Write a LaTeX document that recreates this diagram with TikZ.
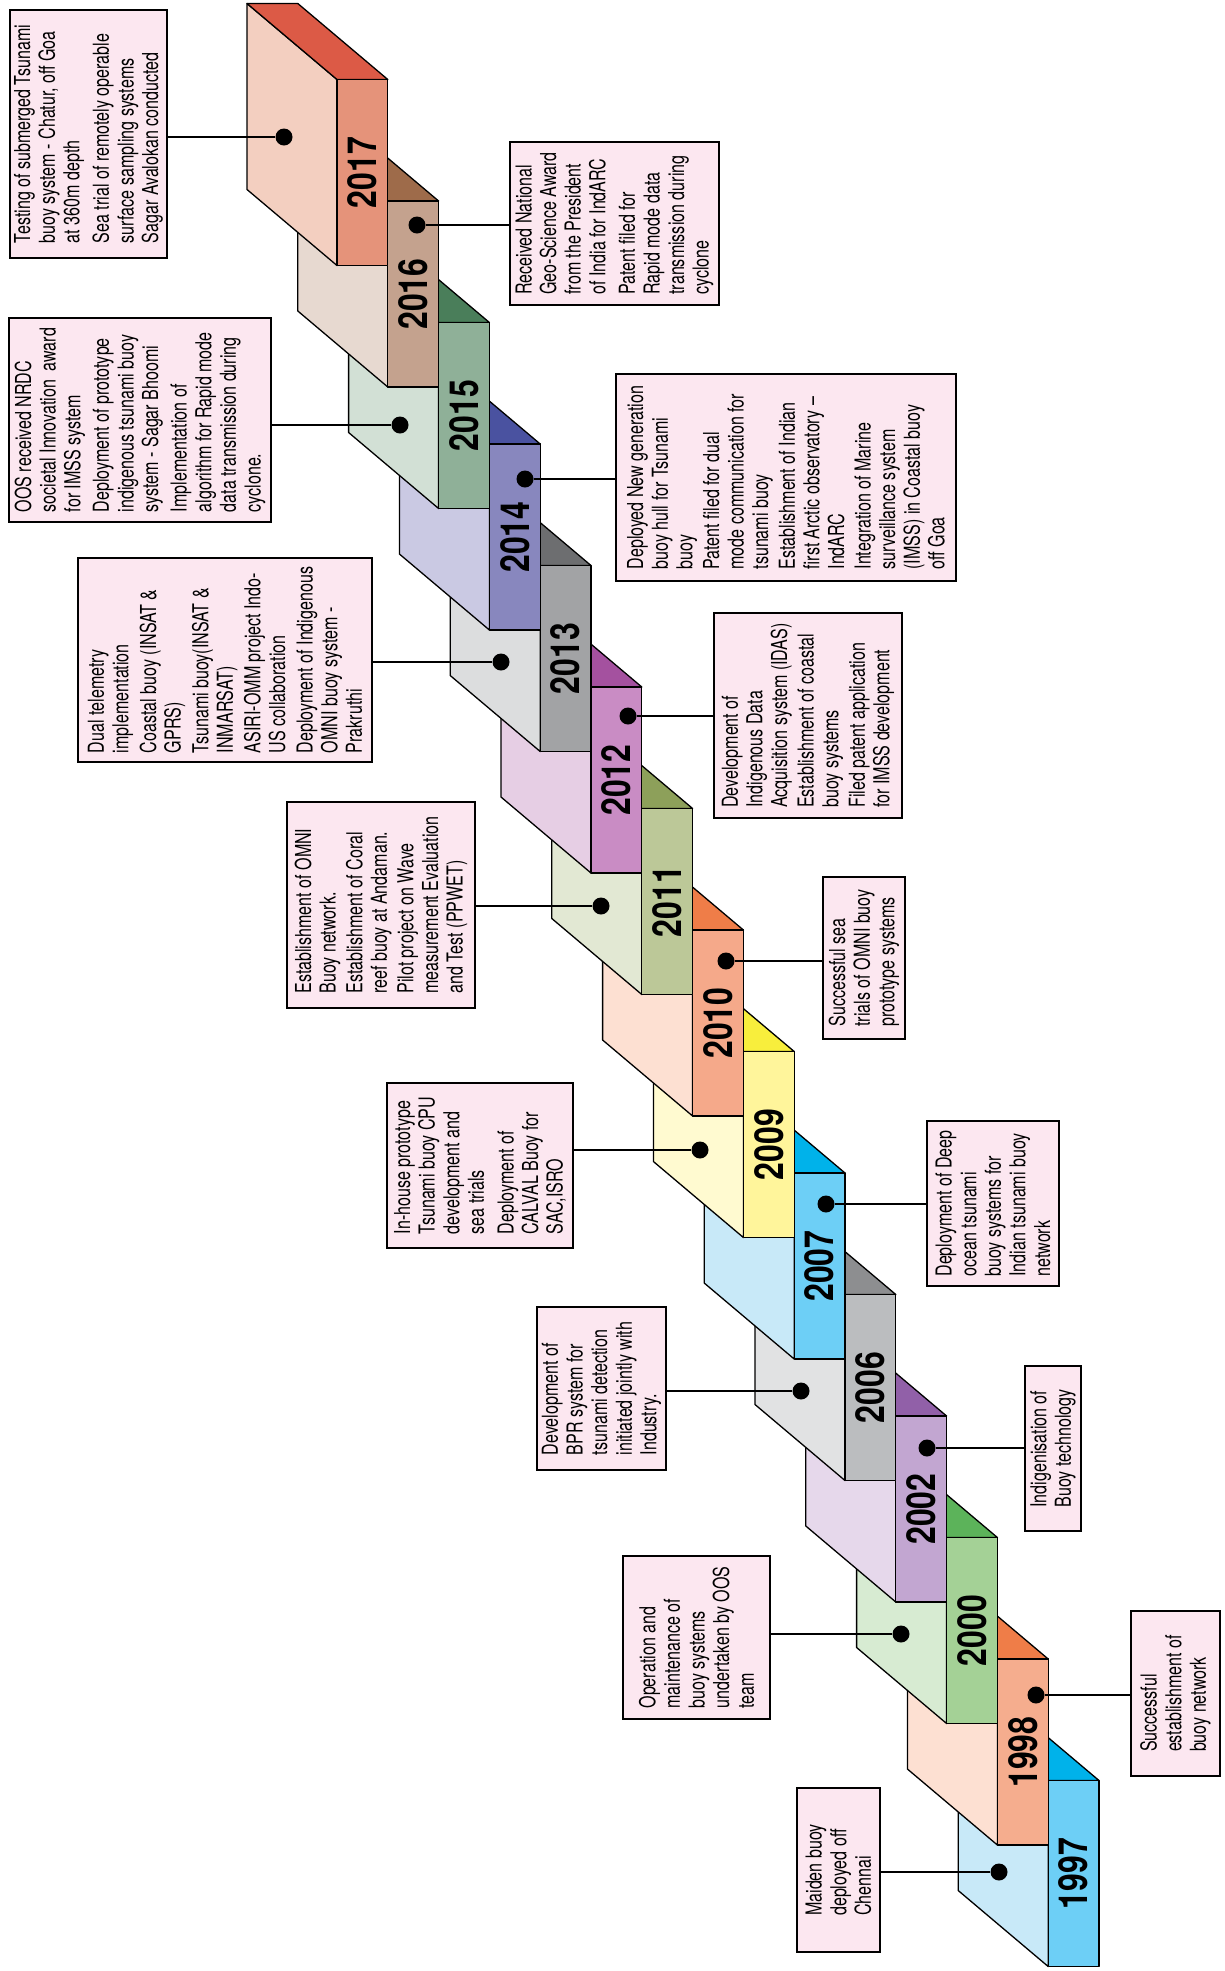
\documentclass[tikz,border=0pt]{standalone}
\usepackage{fontspec}
\newfontfamily\boxfont{TeX Gyre Heros}[FakeStretch=0.73]
\newfontfamily\yearfont{TeX Gyre Heros}[FakeStretch=0.8]
\definecolor{boxpink}{HTML}{FCE7F0}
% block colours: top / side / front
\definecolor{aT}{HTML}{DC5A46}\definecolor{aS}{HTML}{F3CFC0}\definecolor{aF}{HTML}{E5937A}
\definecolor{bT}{HTML}{9E6B4A}\definecolor{bS}{HTML}{E7D9D0}\definecolor{bF}{HTML}{C4A28E}
\definecolor{cT}{HTML}{4A7E5A}\definecolor{cS}{HTML}{D2E0D5}\definecolor{cF}{HTML}{8FB098}
\definecolor{dT}{HTML}{4A52A0}\definecolor{dS}{HTML}{CAC9E3}\definecolor{dF}{HTML}{8887BE}
\definecolor{eT}{HTML}{6D6E70}\definecolor{eS}{HTML}{DCDDDE}\definecolor{eF}{HTML}{A2A3A5}
\definecolor{fT}{HTML}{A4519F}\definecolor{fS}{HTML}{E6CEE4}\definecolor{fF}{HTML}{C98CC4}
\definecolor{gT}{HTML}{8DA05A}\definecolor{gS}{HTML}{E2E8D3}\definecolor{gF}{HTML}{BCC898}
\definecolor{hT}{HTML}{EF7D48}\definecolor{hS}{HTML}{FDE0D2}\definecolor{hF}{HTML}{F5A98A}
\definecolor{iT}{HTML}{F8EE3C}\definecolor{iS}{HTML}{FFFAD0}\definecolor{iF}{HTML}{FFF59B}
\definecolor{jT}{HTML}{00B2EA}\definecolor{jS}{HTML}{C8E9F8}\definecolor{jF}{HTML}{6DCFF6}
\definecolor{kT}{HTML}{8D8E90}\definecolor{kS}{HTML}{E1E2E3}\definecolor{kF}{HTML}{BBBDBF}
\definecolor{lT}{HTML}{9160A8}\definecolor{lS}{HTML}{E6D8EB}\definecolor{lF}{HTML}{C2A6D1}
\definecolor{mT}{HTML}{5CB35A}\definecolor{mS}{HTML}{D7EBD2}\definecolor{mF}{HTML}{A4D196}
\definecolor{nT}{HTML}{EF7D48}\definecolor{nS}{HTML}{FDE0D2}\definecolor{nF}{HTML}{F5AD8E}
\definecolor{oT}{HTML}{00B2EA}\definecolor{oS}{HTML}{C8E9F8}\definecolor{oF}{HTML}{6DCFF6}
\tikzset{
 blk/.style={draw=black, line width=1.3pt, line join=round},
 yr/.style={rotate=90, font=\yearfont\bfseries\fontsize{40}{40}\selectfont, inner sep=0pt},
 infobox/.style={draw=black, line width=1.1pt, fill=boxpink, rotate=90, align=left,
   inner sep=0pt, font=\boxfont\fontsize{22}{24.6}\selectfont},
 dot/.style={circle, fill=black, inner sep=0pt, minimum size=17pt},
 conn/.style={line width=1.1pt}
}
\newcommand\yblock[5]{%
 \pgfmathsetmacro\bx{337+#1*50.8}%
 \pgfmathsetmacro\by{79.5+#1*121.5}%
 \draw[blk, fill=#3] (\bx,\by) -- (\bx-90,\by-76) -- (\bx-90,\by+110) -- (\bx,\by+186) -- cycle;
 \draw[blk, fill=#2] (\bx,\by) -- (\bx+50.8,\by) -- (\bx-39.2,\by-76) -- (\bx-90,\by-76) -- cycle;
 \draw[blk, fill=#4] (\bx,\by) rectangle (\bx+50.8,\by+186);
 \node[yr] (y#5) at (\bx+25.4,\by+93) {#5};
}
\begin{document}
\begin{tikzpicture}[x=1pt,y=-1pt]
\useasboundingbox[fill=white] (0,0) rectangle (1224,1971);
% blocks, bottom first
\yblock{14}{oT}{oS}{oF}{1997}
\yblock{13}{nT}{nS}{nF}{1998}
\yblock{12}{mT}{mS}{mF}{2000}
\yblock{11}{lT}{lS}{lF}{2002}
\yblock{10}{kT}{kS}{kF}{2006}
\yblock{9}{jT}{jS}{jF}{2007}
\yblock{8}{iT}{iS}{iF}{2009}
\yblock{7}{hT}{hS}{hF}{2010}
\yblock{6}{gT}{gS}{gF}{2011}
\yblock{5}{fT}{fS}{fF}{2012}
\yblock{4}{eT}{eS}{eF}{2013}
\yblock{3}{dT}{dS}{dF}{2014}
\yblock{2}{cT}{cS}{cF}{2015}
\yblock{1}{bT}{bS}{bF}{2016}
\yblock{0}{aT}{aS}{aF}{2017}
% text boxes
\node[infobox, minimum width=248pt, minimum height=157pt] (bA) at (88.5,134) {Testing of submerged Tsunami\\buoy system - Chatur, off Goa\\at 360m depth\\[5pt]Sea trial of remotely operable\\surface sampling systems\\Sagar Avalokan conducted};
\node[infobox, minimum width=163pt, minimum height=209pt] (bB) at (614.5,223.5) {Received National\\Geo-Science Award\\from the President\\of India for IndARC\\[5pt]Patent filed for\\Rapid mode data\\transmission during\\cyclone};
\node[infobox, minimum width=204pt, minimum height=262pt] (bC) at (140,420) {OOS received NRDC\\societal Innovation\ \ award\\for IMSS system\\[4pt]Deployment of prototype\\indigenous tsunami buoy\\system - Sagar Bhoomi\\[4pt]Implementation of\\algorithm for Rapid mode\\data transmission during\\cyclone.};
\node[infobox, minimum width=207pt, minimum height=340pt] (bD) at (786,477.5) {Deployed New generation\\buoy hull for Tsunami\\buoy\\[2pt]Patent filed for dual\\mode communication for\\tsunami buoy\\[2pt]Establishment of Indian\\first Arctic observatory –\\IndARC\\[2pt]Integration of Marine\\surveillance system\\(IMSS) in Coastal buoy\\off Goa};
\node[infobox, minimum width=204pt, minimum height=294pt] (bE) at (225,660) {Dual telemetry\\implementation\\[3pt]Coastal buoy (INSAT \&\\GPRS)\\[3pt]Tsunami buoy(INSAT \&\\INMARSAT)\\[3pt]ASIRI-OMM project Indo-\\US collaboration\\[3pt]Deployment of Indigenous\\OMNI buoy system -\\Prakruthi};
\node[infobox, minimum width=205pt, minimum height=188pt] (bF) at (808,715.5) {Development of\\Indigenous Data\\Acquisition system (IDAS)\\[2pt]Establishment of coastal\\buoy systems\\[2pt]Filed patent application\\for IMSS development};
\node[infobox, minimum width=206pt, minimum height=188pt] (bG) at (381,905) {Establishment of OMNI\\Buoy network.\\[2pt]Establishment of Coral\\reef buoy at Andaman.\\[2pt]Pilot project on Wave\\measurement Evaluation\\and Test (PPWET)};
\node[infobox, minimum width=162pt, minimum height=82pt] (bH) at (864,958) {Successful sea\\trials of OMNI buoy\\prototype systems};
\node[infobox, minimum width=165pt, minimum height=186pt] (bI) at (480,1165.5) {In-house prototype\\Tsunami buoy CPU\\development and\\sea trials\\[5pt]Deployment of\\CALVAL Buoy for\\SAC,ISRO};
\node[infobox, minimum width=165pt, minimum height=132pt] (bJ) at (993,1203.5) {Deployment of Deep\\ocean tsunami\\buoy systems for\\Indian tsunami buoy\\network};
\node[infobox, minimum width=163pt, minimum height=129pt] (bK) at (601.5,1388.5) {Development of\\BPR system for\\tsunami detection\\initiated jointly with\\Industry.};
\node[infobox, minimum width=165pt, minimum height=56pt] (bL) at (1053,1448.5) {Indigenisation of\\Buoy technology};
\node[infobox, minimum width=163pt, minimum height=147pt] (bM) at (696.5,1637.5) {Operation and\\maintenance of\\buoy systems\\undertaken by OOS\\team};
\node[infobox, minimum width=165pt, minimum height=89pt] (bN) at (1175.5,1693.5) {Successful\\establishment of\\buoy network};
\node[infobox, minimum width=164pt, minimum height=83pt] (bO) at (838.5,1870) {Maiden buoy\\deployed off\\Chennai};
% dots
\node[dot] (dA) at (284,137) {};
\node[dot] (dB) at (417,225) {};
\node[dot] (dC) at (400,425) {};
\node[dot] (dD) at (525,479) {};
\node[dot] (dE) at (501,662) {};
\node[dot] (dF) at (628,716) {};
\node[dot] (dG) at (601,906) {};
\node[dot] (dH) at (726,961) {};
\node[dot] (dI) at (700,1150) {};
\node[dot] (dJ) at (826,1204) {};
\node[dot] (dK) at (801,1391) {};
\node[dot] (dL) at (927,1448) {};
\node[dot] (dM) at (901,1634) {};
\node[dot] (dN) at (1036,1695) {};
\node[dot] (dO) at (999,1872) {};
% connectors (boxes on the left: their right side is .south; on the right: .north)
\draw[conn] (dA) -- (dA -| bA.south);
\draw[conn] (dB) -- (dB -| bB.north);
\draw[conn] (dC) -- (dC -| bC.south);
\draw[conn] (dD) -- (dD -| bD.north);
\draw[conn] (dE) -- (dE -| bE.south);
\draw[conn] (dF) -- (dF -| bF.north);
\draw[conn] (dG) -- (dG -| bG.south);
\draw[conn] (dH) -- (dH -| bH.north);
\draw[conn] (dI) -- (dI -| bI.south);
\draw[conn] (dJ) -- (dJ -| bJ.north);
\draw[conn] (dK) -- (dK -| bK.south);
\draw[conn] (dL) -- (dL -| bL.north);
\draw[conn] (dM) -- (dM -| bM.south);
\draw[conn] (dN) -- (dN -| bN.north);
\draw[conn] (dO) -- (dO -| bO.south);
\end{tikzpicture}
\end{document}
